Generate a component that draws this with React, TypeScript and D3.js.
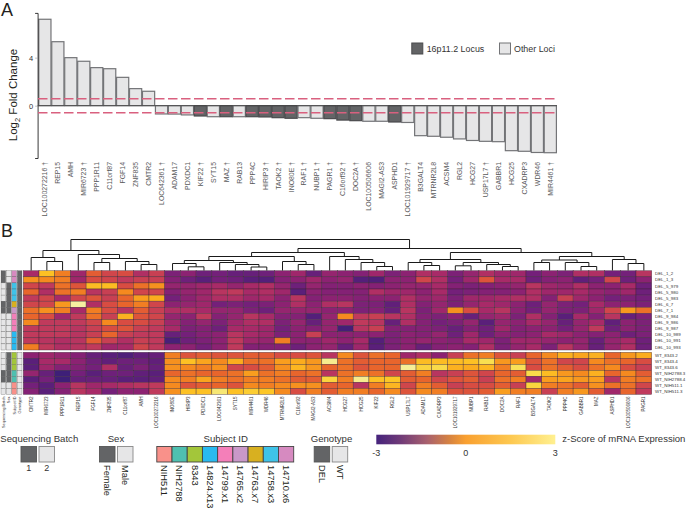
import React, { useRef, useEffect } from "react";
import * as d3 from "d3";

// Panel A: genes sorted by log2 fold change
const barGenes = ["LOC100272216", "REP15", "AMH", "MIR6723", "PPP1R11", "C11orf87", "FGF14", "ZNF835", "CMTR2", "LOC642361", "ADAM17", "PDXDC1", "KIF22", "SYT15", "MAZ", "RAB13", "PPP4C", "HIRIP3", "TAOK2", "INO80E", "RAF1", "NUBP1", "PAGR1", "C16orf92", "DOC2A", "LOC100506606", "MAGI2-AS3", "ASPHD1", "LOC101929717", "B3GALT4", "MTRNR2L8", "ACSM4", "RGL2", "HCG27", "USP17L7", "GABBR1", "HCG25", "CXADRP3", "WDR46", "MIR4461"];
const barValues = [7.2, 5.33, 4.0, 3.7, 3.17, 3.08, 2.36, 1.42, 1.2, -0.69, -0.7, -0.77, -0.86, -0.92, -0.92, -0.92, -0.92, -0.94, -1.0, -1.05, -1.0, -1.05, -1.08, -1.2, -1.25, -1.3, -1.3, -1.36, -1.4, -2.5, -2.55, -2.63, -2.77, -2.9, -2.97, -3.0, -3.75, -3.8, -3.9, -3.92];
const locusGenes = ["KIF22", "MAZ", "PPP4C", "HIRIP3", "TAOK2", "INO80E", "PAGR1", "C16orf92", "DOC2A", "ASPHD1"];
const daggerGenes = ["LOC100272216", "MIR6723", "LOC642361", "KIF22", "MAZ", "HIRIP3", "TAOK2", "INO80E", "RAF1", "NUBP1", "PAGR1", "C16orf92", "DOC2A", "LOC101929717", "USP17L7", "MIR4461"];
const foldCutoff = 0.58;

// Panel B: heatmap columns, in dendrogram order
const heatGenes = ["CMTR2", "MIR6723", "PPP1R11", "REP15", "FGF14", "ZNF835", "C11orf87", "AMH", "LOC100272216", "INO80E", "HIRIP3", "PDXDC1", "LOC642361", "SYT15", "MIR4461", "WDR46", "MTRNR2L8", "C16orf92", "MAGI2-AS3", "ACSM4", "HCG27", "HCG25", "KIF22", "RGL2", "USP17L7", "ADAM17", "CXADRP3", "LOC101929717", "NUBP1", "RAB13", "DOC2A", "RAF1", "B3GALT4", "TAOK2", "PPP4C", "GABBR1", "MAZ", "ASPHD1", "LOC100506606", "PAGR1"];
const delSamples = ["DEL_1_2", "DEL_1_3", "DEL_5_979", "DEL_5_980", "DEL_5_983", "DEL_6_7", "DEL_7_1", "DEL_9_984", "DEL_9_986", "DEL_9_987", "DEL_10_989", "DEL_10_991", "DEL_10_993"];
const wtSamples = ["WT_8343.2", "WT_8343.4", "WT_8343.6", "WT_NIH2788.3", "WT_NIH2788.4", "WT_NIH511.1", "WT_NIH511.3"];

const delValues = [
  [-1.2, 0.9, -0.1, -1.3, -0.4, -0.7, -0.6, -1.1, -0.8, -1.7, -1.5, -1.9, -1.8, -2.0, -2, -1.9, -1.5, -1.3, -2, -1.4, -1.5, -1.6, -1.3, -1.7, -1.5, -1.1, -1.2, -1.7, -1.4, -1.1, -1.3, -1.3, -1.8, -1.5, -1.7, -1.1, -1.1, -1.8, -1.8, -1.0],
  [0.1, 0, -0.1, -1.3, -0.6, -0.7, -0.9, -0.8, -0.8, -1.6, -1.9, -2.2, -1.8, -1.9, -2.2, -2.3, -1.6, -1.5, -1.3, -1.5, -1.4, -2.3, -2.4, -1.5, -1.5, -0.7, -1.1, -1.8, -1.3, -0.5, -1.2, -1.2, -1.9, -1.6, -1.5, -2.1, -1.8, -0.7, -1.9, -1.5],
  [-0.7, -0.9, -0.2, -0.5, 0.8, 0.8, -0.6, -0.2, 0.1, -1.4, -1.4, -1.3, -1.2, -1.4, -1.2, -1.1, -1.4, -1.9, -1.4, -1.6, -1.6, -1.5, -1.6, -1.5, -1.4, -1.4, -1.2, -1.6, -1.7, -1.6, -1.5, -1.4, -1, -1.3, -1.4, -1.1, -1.5, -1.5, -1.2, -1.9],
  [-0.3, -1.1, -0.2, -0.1, -1, -0.8, 0, -0.7, -0.7, -1.6, -1.4, -1.3, -1, -0.9, -1.2, -1.1, -1.3, -2.2, -1.5, -1.6, -1.6, -1.6, -1.1, -1.3, -1.3, -1.5, -1.2, -1.8, -1.7, -1.6, -1.6, -1.5, -1.1, -1.3, -1.3, -1.2, -1.4, -1.5, -1.3, -1.9],
  [-0.9, -0.7, -1.2, -0.7, -0.5, -0.8, -0.3, 0.3, 0.5, -1.8, -1.5, -1.3, -1.1, -1.1, -1.3, -1.2, -1.5, -1, -1.6, -1.5, -1.5, -1.6, -1.5, -1.5, -1.1, -1.4, -1.3, -1.7, -1.3, -1.3, -1.2, -1.1, -1.1, -1.6, -0.8, -1.3, -1.5, -1.8, -1.7, -1.8],
  [-0.7, -0.7, 0.2, 2.6, -1.1, -0.6, -0.3, -0.1, -0.7, -1.5, -1.4, -1.3, -1.8, -1.7, -1.8, -1.7, -1.5, -1.1, -1.5, -1.1, -1, -1.7, -1.7, -2.1, -1.1, -1.6, -1.4, -1.7, -1.4, -1.2, -1.3, -1.5, -1.9, -1.4, -1.7, -1.8, -1.2, -1.5, -1.5, -1.7],
  [-0.2, 0.1, -0.1, -1.2, -0.1, -0.6, -1, -0.4, -0.8, -1.1, -1.1, -1.2, -1.4, -1.4, -1.7, -1.9, -1.4, -1.4, -1.4, -1.5, -1.5, -1.7, -1.6, -2, -1, -1.7, -1.3, 0.1, -0.6, -1.2, -1, -1.5, -1.8, -1.4, -1.7, -1.7, -1.3, -0.7, 0.2, -0.2],
  [-0.3, -0.6, -1.3, -0.9, -0.2, -0.8, 0.6, -0.5, -0.7, -1.4, -1.5, -0.9, -1.6, -1.4, -1, -1.2, -1.6, -1.6, -2.3, -1.4, 0, -0.9, -0.8, -1, -1.1, -1.6, -1.7, -1.5, -2, -1.4, -1.3, -1.7, -1.1, -1.6, -2.2, -1.2, -1.6, -1, -2, -1.7],
  [0, -0.9, -0.9, -0.9, -0.7, 0, -0.6, -0.6, -0.8, -1.3, -1.6, -1.4, -1.7, -1.3, -1.1, -1.1, -1.7, -1.4, -2, -1.4, -1.3, -0.9, -1, -2, -1.1, -1.6, -1.8, -1.7, -1.4, -2.2, -1.4, -1.5, -1.2, -1.4, -2, -1.4, -1.2, -2.1, -1.5, -1.7],
  [-0.9, -0.9, -0.9, -1, -0.8, -0.6, -0.5, -0.8, -0.9, -1.2, -1.7, -1.6, -1.9, -1.2, -1.2, -1.3, -1.8, -1.5, -1.6, -1.4, -2.6, -1, -0.8, -1.6, -1.6, -1.6, -1.7, -2, -1.6, -1.9, -1.3, -1.6, -1.5, -1.5, -1.8, -1.4, -0.9, -1.9, -1.5, -1.7],
  [-0.9, -0.9, -0.9, -1, -0.8, -0.3, -0.8, -0.9, -0.9, -2, -1.8, -1.6, -1.5, -1, -1.2, -1.3, -1.7, -1.5, -0.8, -1.5, -1.5, -1.5, -1.5, -1.7, -1.5, -1.6, -1.4, -1.9, -1.3, -1.9, -1.5, -1.6, -1.5, -1.2, -1.3, -1.5, -1.6, -1.5, -1.9, -1.7],
  [-0.9, -1, -1.1, -1, -0.4, -0.8, -1.1, -0.8, -0.9, -2.5, -1.9, -1.7, -1.5, -0.9, -1.3, -1.4, -0.1, -1.5, -1.5, -1.3, -1.5, -1.2, -2.3, -1.7, -1.5, -1.4, -1.5, -1.6, -1.2, -1.3, -1.7, -1.3, -1.3, -1.4, -1.5, -1.4, -2, -1.4, -1.2, -1.9],
  [-0.1, -0.9, -1.1, -1, -0.9, -1.3, -1.2, -0.7, -0.9, -1.5, -1.5, -1.8, -1.5, -0.9, -1.6, -1.6, -1.6, -1.9, -1.5, -1.4, -2, -1.3, -2.2, -1.7, -1.5, -2, -1.6, -1.5, -1.6, -1.1, -1.7, -1.4, -1.2, -1.7, -1, -1.4, -2, -1.4, -1.1, -1.9],
];
const wtValues = [
  [-1.5, -1.3, -1.4, -1.6, -2, -2.2, -2.4, -2.1, -2, -0.1, -0.5, -0.4, -0.5, -0.5, -0.4, -0.4, -0.6, -0.6, -0.5, -1, 0, -0.5, -0.2, -0.3, -1.3, -1.1, -1.5, -0.8, -0.2, -0.1, -0.5, -0.8, -0.3, 0, 0.6, 0.4, 0.6, -0.3, 0.2, 0.5],
  [-2.2, -1.2, -1.2, -1.5, -1.9, -2.1, -1.9, -1.9, -2.1, 0.1, 0.9, 0.4, 0, 0.5, -0.2, -0.2, 0.3, 0.5, 0.2, 2.4, -0.2, -0.4, -0.3, -0.3, -0.2, 0.8, 0.8, 0.8, 0.9, 1.7, 0.2, 0.3, -0.5, -0.2, -0.7, -0.7, 0, -0.2, -0.3, -0.6],
  [-2.2, -1.3, -1.6, -1.6, -1.8, -1.1, -2, -1.7, -2, 0.1, 0, -0.1, 0.1, -0.7, -0.6, -0.4, 0.1, 0.7, 0.2, -0.3, -0.2, -0.5, -0.3, -0.3, 2.5, 1.4, 1.6, 0.6, 0.5, 0.7, -0.1, 1.8, -0.6, -0.2, -0.4, -0.6, -0.2, 0, -0.6, -0.8],
  [-1.4, -2, -2.7, -1.8, -2.2, -1.9, -1.9, -2.1, -2.2, -0.3, -0.2, -0.3, -0.3, -0.2, 0.3, -0.2, -0.1, -0.3, -0.2, -1, -0.2, -0.1, -0.2, -0.7, -0.4, -0.1, -1, -0.8, -0.5, -0.7, -0.3, -0.4, 1.6, 0.8, 0.2, 0, 0.6, -0.3, 0, -0.4],
  [-2.2, -1.8, -2.7, -2, -2, -2, -2.2, -2.2, -2.1, 0, -0.1, 0.4, -0.1, -0.2, -0.1, -0.1, -0.2, -0.4, -0.4, 1.4, -0.1, 2.4, 0.9, 1, -0.4, -0.3, -0.7, -0.5, -0.4, -0.8, -0.2, -0.1, -1.3, 0.3, 0.4, 0.2, 0.3, -1, -0.1, -0.2],
  [-1.8, -2.2, -1.5, -1, -1.3, -1.2, -1.1, -1, -0.9, 0, -0.5, -0.4, -0.3, -0.5, 0, -0.1, 0, 0.1, 0.1, -0.4, -0.3, -1, -0.1, 0.7, -0.7, -0.1, -0.4, -0.8, -0.6, -0.6, -0.4, -0.8, 1.4, -0.1, -0.2, -0.4, 0.1, -0.2, -0.2, -0.7],
  [-1.6, -2.2, -1.6, -1, -1.2, -1.8, -1.5, -1.5, -0.9, 0.1, 0.9, 0.9, 2.1, 0.9, 1.2, 1, 0, -0.6, -0.1, -0.4, -0.1, -0.1, -0.3, 0, -0.5, 0, -0.1, -0.5, -0.5, -0.4, 0.3, -0.1, -0.1, -0.8, -0.1, 0.2, -0.4, -1.3, -0.3, -0.9],
];

// Column dendrogram: [merge height, left, right], a number is a column index
const clusterTree = [31,
  [20, [13, 0, [9, 1, 2]], [16, 3, [12, [8, 4, 5], [9, 6, [6, 7, 8]]]]],
  [22,
    [18,
      [14, [10, [7, 9, [3.7, 10, 11]], [8, 12, [6, 13, [3.5, 14, 15]]]], [9, 16, [6, 17, 18]]],
      [14, 19, [11, 20, [8, 21, [4, 22, 23]]]]],
    [18,
      [11, [8, 24, [5, 25, 26]], [8, [4.7, 27, 28], [6, 29, [4, 30, 31]]]],
      [14, [10.5, [8, 32, 33], [8, 34, [4, 35, 36]]], [11, 37, [7, 38, 39]]]]],
];

// Annotation tracks, one entry per row (DEL then WT)
const annotationNames = ["Sequencing Batch", "Sex", "Subject ID", "Genotype"];
const batchTrack = [1, 1, 2, 2, 2, 1, 1, 2, 2, 2, 2, 2, 2, 2, 2, 2, 1, 1, 2, 2];
const sexTrack = ["Male", "Male", "Female", "Female", "Female", "Female", "Female", "Male", "Male", "Male", "Male", "Male", "Male", "Female", "Female", "Female", "Female", "Female", "Male", "Male"];
const subjectTrack = ["14710.x6", "14710.x6", "14758.x3", "14758.x3", "14758.x3", "14763.x7", "14765.x2", "14799.x1", "14799.x1", "14799.x1", "14824.x13", "14824.x13", "14824.x13", "8343", "8343", "8343", "NIH2788", "NIH2788", "NIH511", "NIH511"];
const genotypeTrack = ["DEL", "DEL", "DEL", "DEL", "DEL", "DEL", "DEL", "DEL", "DEL", "DEL", "DEL", "DEL", "DEL", "WT", "WT", "WT", "WT", "WT", "WT", "WT"];

const subjectIds = ["NIH511", "NIH2788", "8343", "14824.x13", "14799.x1", "14765.x2", "14763.x7", "14758.x3", "14710.x6"];
const subjectColors = ["#f9918a", "#4fc0b0", "#a3c63a", "#29baf0", "#f47fb9", "#c998c8", "#d8b020", "#3fc3e8", "#d68ac0"];

const zStops = [-2.7, -2.2, -1.8, -1.5, -1.2, -0.9, -0.6, -0.3, 0, 0.5, 1, 1.7, 2.6];
const zColors = ["#3e1f78", "#5a1f7a", "#74207a", "#8c2272", "#a82a68", "#c03a5c", "#d84c42", "#e8652c", "#f58a1f", "#fbac1e", "#fdc626", "#f8df50", "#f6f0a0"];
const barStops = [-3, -2.2, -1.3, -0.5, 0, 1.5, 3];
const barColors = ["#45237c", "#6f3a78", "#a8606e", "#d9853f", "#f9a030", "#fdc850", "#fff090"];

const DARK = "#636466";
const LIGHT = "#e6e6e7";
const FONT = "'Liberation Sans', Arial, sans-serif";

const App = () => {
  const svgRef = useRef(null);

  useEffect(() => {
    const svg = d3.select(svgRef.current);
    svg.selectAll("*").remove();
    svg.style("font-family", FONT);

    const label = (parent, x, y, str, size, opts: any = {}) =>
      parent
        .append("text")
        .attr("x", x)
        .attr("y", y)
        .attr("font-size", size)
        .attr("fill", opts.fill || "#231f20")
        .attr("text-anchor", opts.anchor || "start")
        .text(str);

    label(svg, 1, 15.5, "A", 18);
    label(svg, 1, 236.5, "B", 18);

    // ---- panel A ----
    const x = d3.scaleBand().domain(barGenes).range([38.4, 556.8]).paddingInner(0.06).paddingOuter(0.03);
    const y = d3.scaleLinear().domain([-4.36, 7.73]).range([158, 12.9]);

    svg
      .append("g")
      .selectAll("rect")
      .data(barGenes)
      .enter()
      .append("rect")
      .attr("x", (d) => x(d))
      .attr("y", (d, i) => Math.min(y(0), y(barValues[i])))
      .attr("width", x.bandwidth())
      .attr("height", (d, i) => Math.abs(y(barValues[i]) - y(0)))
      .attr("fill", (d) => (locusGenes.includes(d) ? DARK : LIGHT))
      .attr("stroke", (d) => (locusGenes.includes(d) ? "#4a4a4d" : "#737477"))
      .attr("stroke-width", 1.2);

    const yAxis = svg
      .append("g")
      .attr("transform", `translate(${x.range()[0] - 0.8},0)`)
      .call(d3.axisLeft(y).tickValues([0, 4]).tickSize(2.5).tickPadding(2));
    yAxis.selectAll("text").attr("font-size", 7.5).attr("font-family", FONT).attr("fill", "#333");
    yAxis.select(".domain").attr("stroke", "#222").attr("stroke-width", 0.9);
    yAxis.selectAll("line").attr("stroke", "#888").attr("stroke-width", 0.5);

    svg
      .append("line")
      .attr("x1", 37.6)
      .attr("x2", 557)
      .attr("y1", y(0))
      .attr("y2", y(0))
      .attr("stroke", "#444")
      .attr("stroke-width", 0.8);

    [foldCutoff, -foldCutoff].forEach((v) => {
      svg
        .append("line")
        .attr("x1", 38)
        .attr("x2", 558)
        .attr("y1", y(v))
        .attr("y2", y(v))
        .attr("stroke", "#d9607f")
        .attr("stroke-width", 1.5)
        .attr("stroke-dasharray", "9.5 3.5");
    });

    const yTitle = svg
      .append("text")
      .attr("transform", "translate(17,95) rotate(-90)")
      .attr("text-anchor", "middle")
      .attr("font-size", 11.5)
      .attr("fill", "#231f20");
    yTitle.append("tspan").text("Log");
    yTitle.append("tspan").attr("font-size", 7.5).attr("dy", 3).text("2");
    yTitle.append("tspan").attr("dy", -3).text(" Fold Change");

    svg
      .append("g")
      .selectAll("text")
      .data(barGenes)
      .enter()
      .append("text")
      .attr("transform", (d) => `translate(${x(d) + x.bandwidth() / 2 + 2.4},162) rotate(-90)`)
      .attr("text-anchor", "end")
      .attr("font-size", 6.9)
      .attr("fill", "#58585a")
      .text((d) => (daggerGenes.includes(d) ? `${d} †` : d));

    // top legend
    [
      { bx: 411.8, tx: 426.7, name: "16p11.2 Locus", fill: DARK, stroke: "#4a4a4d" },
      { bx: 499.5, tx: 514, name: "Other Loci", fill: LIGHT, stroke: "#737477" },
    ].forEach((l) => {
      svg.append("rect").attr("x", l.bx).attr("y", 43).attr("width", 11).attr("height", 11).attr("fill", l.fill).attr("stroke", l.stroke);
      label(svg, l.tx, 51.5, l.name, 8.9, { fill: "#333" });
    });

    // ---- panel B ----
    const zColor = d3.scaleLinear().domain(zStops).range(zColors).clamp(true);
    const colX = d3.scaleBand().domain(heatGenes).range([23.3, 651.7]);
    const delY = d3.scaleBand().domain(delSamples).range([270.7, 350]);
    const wtY = d3.scaleBand().domain(wtSamples).range([352.3, 394.3]);
    const rowY = (s) => (delSamples.includes(s) ? delY(s) : wtY(s));
    const allSamples = [...delSamples, ...wtSamples];
    const allValues = [...delValues, ...wtValues];

    const heat = svg.append("g");
    allSamples.forEach((s, r) => {
      heat
        .append("g")
        .selectAll("rect")
        .data(heatGenes)
        .enter()
        .append("rect")
        .attr("x", (g) => colX(g))
        .attr("y", rowY(s))
        .attr("width", colX.bandwidth())
        .attr("height", delY.bandwidth())
        .attr("fill", (g, c) => zColor(allValues[r][c]))
        .attr("stroke", "#3a2434")
        .attr("stroke-opacity", 0.75)
        .attr("stroke-width", 0.5);
    });

    // row labels
    svg
      .append("g")
      .selectAll("text")
      .data(allSamples)
      .enter()
      .append("text")
      .attr("x", 655)
      .attr("y", (s) => rowY(s) + delY.bandwidth() / 2 + 1.6)
      .attr("font-size", 4.4)
      .attr("fill", "#333")
      .text((s) => s);

    // column labels
    svg
      .append("g")
      .selectAll("text")
      .data(heatGenes)
      .enter()
      .append("text")
      .attr("transform", (g) => `translate(${colX(g) + colX.bandwidth() / 2 + 1.5},396.5) rotate(-90)`)
      .attr("text-anchor", "end")
      .attr("font-size", 4.5)
      .attr("fill", "#333")
      .text((g) => g);

    // dendrogram
    const root = d3.hierarchy(clusterTree, (d) => (Array.isArray(d) ? d.slice(1) : null));
    const treeY = d3.scaleLinear().domain([0, 31]).range([270.5, 239.5]);
    root.eachAfter((n) => {
      if (n.children) {
        n.px = d3.mean(n.children, (c) => c.px);
        n.py = treeY(n.data[0]);
      } else {
        n.px = colX(heatGenes[n.data]) + colX.bandwidth() / 2;
        n.py = treeY(0);
      }
    });
    svg
      .append("g")
      .selectAll("path")
      .data(root.descendants().filter((n) => n.children))
      .enter()
      .append("path")
      .attr("fill", "none")
      .attr("stroke", "#1a1a1a")
      .attr("stroke-width", 1)
      .attr("d", (n) => {
        const [a, b] = n.children;
        return `M${a.px},${a.py}V${n.py}H${b.px}V${b.py}`;
      });

    // annotation tracks
    const trackX = d3.scaleBand().domain(annotationNames).range([1, 22]).paddingInner(0.14);
    const trackFill = [
      (r) => (batchTrack[r] === 1 ? DARK : LIGHT),
      (r) => (sexTrack[r] === "Female" ? DARK : LIGHT),
      (r) => subjectColors[subjectIds.indexOf(subjectTrack[r])],
      (r) => (genotypeTrack[r] === "DEL" ? DARK : LIGHT),
    ];
    annotationNames.forEach((name, t) => {
      svg
        .append("g")
        .selectAll("rect")
        .data(allSamples)
        .enter()
        .append("rect")
        .attr("x", trackX(name))
        .attr("y", (s) => rowY(s))
        .attr("width", trackX.bandwidth())
        .attr("height", delY.bandwidth())
        .attr("fill", (s, r) => trackFill[t](r))
        .attr("stroke", "#555")
        .attr("stroke-width", 0.3);
      svg
        .append("text")
        .attr("transform", `translate(${trackX(name) + trackX.bandwidth() / 2 + 1.3},396.5) rotate(-90)`)
        .attr("text-anchor", "end")
        .attr("font-size", 3.9)
        .attr("fill", "#333")
        .text(name);
    });

    // bottom legends
    const legendBox = (bx, w, fill, stroke = "#555") =>
      svg
        .append("rect")
        .attr("x", bx)
        .attr("y", 446.5)
        .attr("width", w)
        .attr("height", 15.5)
        .attr("fill", fill)
        .attr("stroke", stroke)
        .attr("stroke-width", 0.9);
    const vertical = (cx, str) =>
      svg
        .append("text")
        .attr("transform", `translate(${cx - 3.2},465) rotate(90)`)
        .attr("font-size", 9.3)
        .attr("fill", "#231f20")
        .text(str);

    label(svg, 39.3, 442.3, "Sequencing Batch", 9.6, { anchor: "middle", fill: "#333" });
    legendBox(21, 15.5, DARK);
    legendBox(39, 15.5, LIGHT, "#888");
    label(svg, 28.7, 471, "1", 9, { anchor: "middle", fill: "#333" });
    label(svg, 46.7, 471, "2", 9, { anchor: "middle", fill: "#333" });

    label(svg, 116, 442.3, "Sex", 9.6, { anchor: "middle", fill: "#333" });
    legendBox(99.5, 15.5, DARK);
    legendBox(117.5, 15.5, LIGHT, "#888");
    vertical(107, "Female");
    vertical(125, "Male");

    label(svg, 225.7, 442.3, "Subject ID", 9.6, { anchor: "middle", fill: "#333" });
    const subjectX = d3.scaleBand().domain(subjectIds).range([156.8, 293.7]);
    subjectIds.forEach((id, i) => {
      legendBox(subjectX(id), subjectX.bandwidth(), subjectColors[i], "#444");
      vertical(subjectX(id) + subjectX.bandwidth() / 2, id);
    });

    label(svg, 331.5, 442.3, "Genotype", 9.6, { anchor: "middle", fill: "#333" });
    legendBox(314.2, 15.5, DARK);
    legendBox(332.2, 15.5, LIGHT, "#888");
    vertical(322, "DEL");
    vertical(340, "WT");

    // colour bar
    const barX = d3.scaleLinear().domain([-3, 3]).range([376.3, 555.3]);
    const barColor = d3.scaleLinear().domain(barStops).range(barColors);
    const grad = svg.append("defs").append("linearGradient").attr("id", "zgrad");
    barStops.forEach((v) => {
      grad
        .append("stop")
        .attr("offset", `${((v + 3) / 6) * 100}%`)
        .attr("stop-color", barColor(v));
    });
    svg
      .append("rect")
      .attr("x", barX(-3))
      .attr("y", 434.7)
      .attr("width", barX(3) - barX(-3))
      .attr("height", 9.6)
      .attr("fill", "url(#zgrad)");
    [-3, 0, 3].forEach((v) => label(svg, barX(v), 455.8, v, 9, { anchor: "middle", fill: "#333" }));
    label(svg, 562.3, 442.3, "z-Score of mRNA Expression", 9.5, { fill: "#333" });
  }, []);

  return (
    <svg
      ref={svgRef}
      width={688}
      height={511}
      style={{ position: "absolute", left: 0, top: 0, background: "#fff" }}
    />
  );
};

export default App;
